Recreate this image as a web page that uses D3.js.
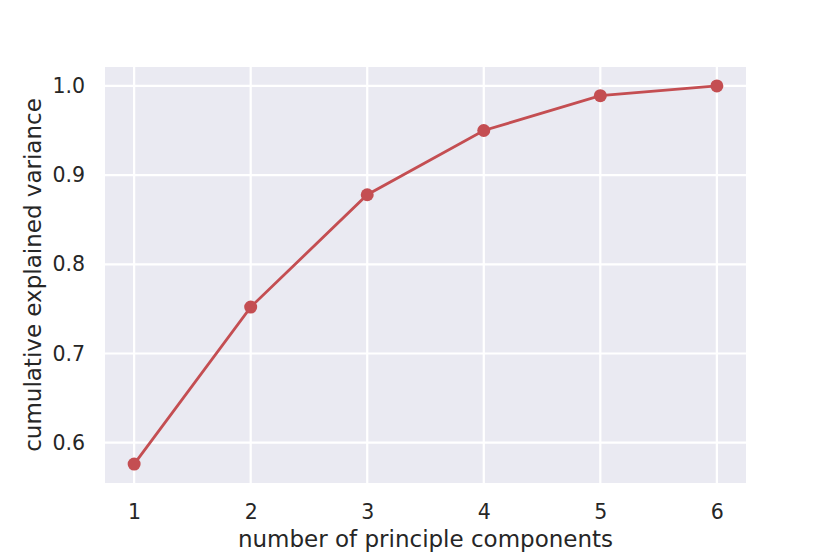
<!DOCTYPE html>
<html><head><meta charset="utf-8">
<script src="https://cdn.jsdelivr.net/npm/d3@7"></script>
<style>body{margin:0;background:#fff}svg{display:block}text{font-family:"DejaVu Sans",sans-serif;fill:#262626}</style>
</head><body>
<script>
const components = [1, 2, 3, 4, 5, 6];
const cumulativeVariance = [0.576, 0.752, 0.878, 0.950, 0.989, 1.0];
const xTicks = [1, 2, 3, 4, 5, 6];
const yTicks = [0.6, 0.7, 0.8, 0.9, 1.0];
const xLabel = "number of principle components";
const yLabel = "cumulative explained variance";

const W = 830, H = 554;
const m = {left: 105, right: 84, top: 67, bottom: 71};
const svg = d3.select("body").append("svg").attr("width", W).attr("height", H);
const x = d3.scaleLinear().domain([0.75, 6.25]).range([m.left, W - m.right]);
const y = d3.scaleLinear().domain([0.5548, 1.0212]).range([H - m.bottom, m.top]);

svg.append("rect").attr("x", m.left).attr("y", m.top)
  .attr("width", W - m.left - m.right).attr("height", H - m.top - m.bottom).attr("fill", "#EAEAF2");

const g = svg.append("g");
g.selectAll(".vg").data(xTicks).join("line")
  .attr("x1", d => x(d)).attr("x2", d => x(d)).attr("y1", m.top).attr("y2", H - m.bottom)
  .attr("stroke", "#fff").attr("stroke-width", 2.2);
g.selectAll(".hg").data(yTicks).join("line")
  .attr("y1", d => y(d)).attr("y2", d => y(d)).attr("x1", m.left).attr("x2", W - m.right)
  .attr("stroke", "#fff").attr("stroke-width", 2.2);

const xAxis = svg.append("g").attr("transform", `translate(0,${H - m.bottom})`)
  .call(d3.axisBottom(x).tickValues(xTicks).tickSize(0).tickPadding(21).tickFormat(d3.format("d")));
const yAxis = svg.append("g").attr("transform", `translate(${m.left},0)`)
  .call(d3.axisLeft(y).tickValues(yTicks).tickSize(0).tickPadding(20).tickFormat(d3.format(".1f")));
[xAxis, yAxis].forEach(a => {
  a.select(".domain").remove();
  a.selectAll("text").style("font-size", "20.5px").style("font-family", "DejaVu Sans").attr("fill", "#262626");
});

const line = d3.line().x((d, i) => x(components[i])).y(d => y(d));
svg.append("path").datum(cumulativeVariance).attr("d", line)
  .attr("fill", "none").attr("stroke", "#C44E52").attr("stroke-width", 2.8);
svg.selectAll(".pt").data(cumulativeVariance).join("circle")
  .attr("cx", (d, i) => x(components[i])).attr("cy", d => y(d)).attr("r", 6.5).attr("fill", "#C44E52");

svg.append("text").attr("x", (m.left + W - m.right) / 2).attr("y", 547)
  .attr("text-anchor", "middle").style("font-size", "23px").text(xLabel);
svg.append("text").attr("transform", `translate(41,${(m.top + H - m.bottom) / 2}) rotate(-90)`)
  .attr("text-anchor", "middle").style("font-size", "23px").text(yLabel);
</script>
</body></html>
